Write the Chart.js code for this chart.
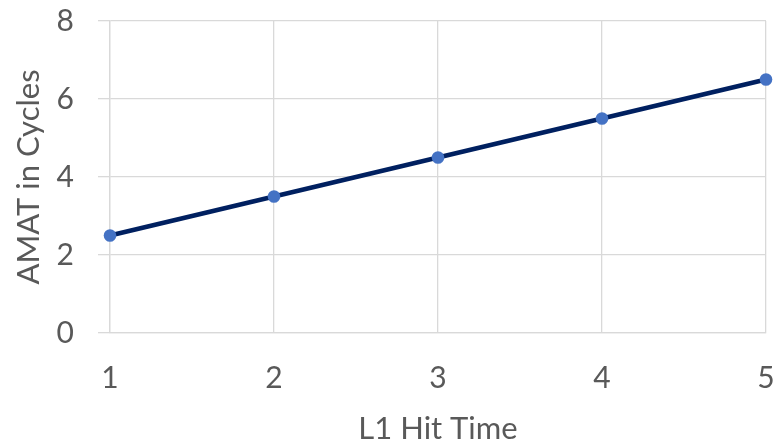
<!DOCTYPE html>
<html>
<head>
<meta charset="utf-8">
<script src="https://cdn.jsdelivr.net/npm/chart.js@4/dist/chart.umd.min.js"></script>
<style>
  html, body { margin: 0; padding: 0; background: #ffffff; }
  #wrap { width: 778px; height: 448px; }
</style>
</head>
<body>
<div id="wrap"><canvas id="c" width="778" height="448"></canvas></div>
<script>
// L1 hit time (cycles) against average memory access time
const hitTimes = [1, 2, 3, 4, 5];
const amatCycles = [2.5, 3.5, 4.5, 5.5, 6.5];
const yTicks = [0, 2, 4, 6, 8];

const textColor = '#595959';
const gridColor = '#d9d9d9';
const fontFamily = 'Lato, "Open Sans", sans-serif';

new Chart(document.getElementById('c'), {
  type: 'line',
  data: {
    datasets: [{
      label: 'AMAT',
      data: hitTimes.map((x, i) => ({ x: x, y: amatCycles[i] })),
      borderColor: '#002060',
      borderWidth: 4.8,
      pointBackgroundColor: '#4472C4',
      pointBorderColor: '#4472C4',
      pointRadius: 6.3,
      pointBorderWidth: 0,
      tension: 0,
      clip: false
    }]
  },
  options: {
    responsive: false,
    animation: false,
    layout: { padding: { top: 21, right: 12, left: 0, bottom: 0 } },
    plugins: { legend: { display: false }, tooltip: { enabled: false } },
    scales: {
      x: {
        type: 'linear',
        min: hitTimes[0],
        max: hitTimes[hitTimes.length - 1],
        afterBuildTicks: axis => { axis.ticks = hitTimes.map(v => ({ value: v })); },
        afterFit: axis => { axis.height = 115; axis.paddingLeft = 0; axis.paddingRight = 0; },
        grid: { color: gridColor, lineWidth: 1.3, drawTicks: false },
        border: { color: gridColor, width: 1.3 },
        ticks: { color: textColor, font: { family: fontFamily, size: 30 }, padding: 27, maxRotation: 0 },
        title: { display: true, text: 'L1 Hit Time', color: textColor, font: { family: fontFamily, size: 31 }, padding: { top: 1, bottom: 0 } }
      },
      y: {
        min: yTicks[0],
        max: yTicks[yTicks.length - 1],
        afterBuildTicks: axis => { axis.ticks = yTicks.map(v => ({ value: v })); },
        afterFit: axis => { axis.width = 110; axis.paddingTop = 0; axis.paddingBottom = 0; },
        grid: { color: gridColor, lineWidth: 1.3, tickLength: 12 },
        border: { color: gridColor, width: 1.3 },
        ticks: { color: textColor, font: { family: fontFamily, size: 30 }, padding: 24 },
        title: { display: true, text: 'AMAT in Cycles', color: textColor, font: { family: fontFamily, size: 31 }, padding: { top: 10, bottom: 0 } }
      }
    }
  }
});
</script>
</body>
</html>
